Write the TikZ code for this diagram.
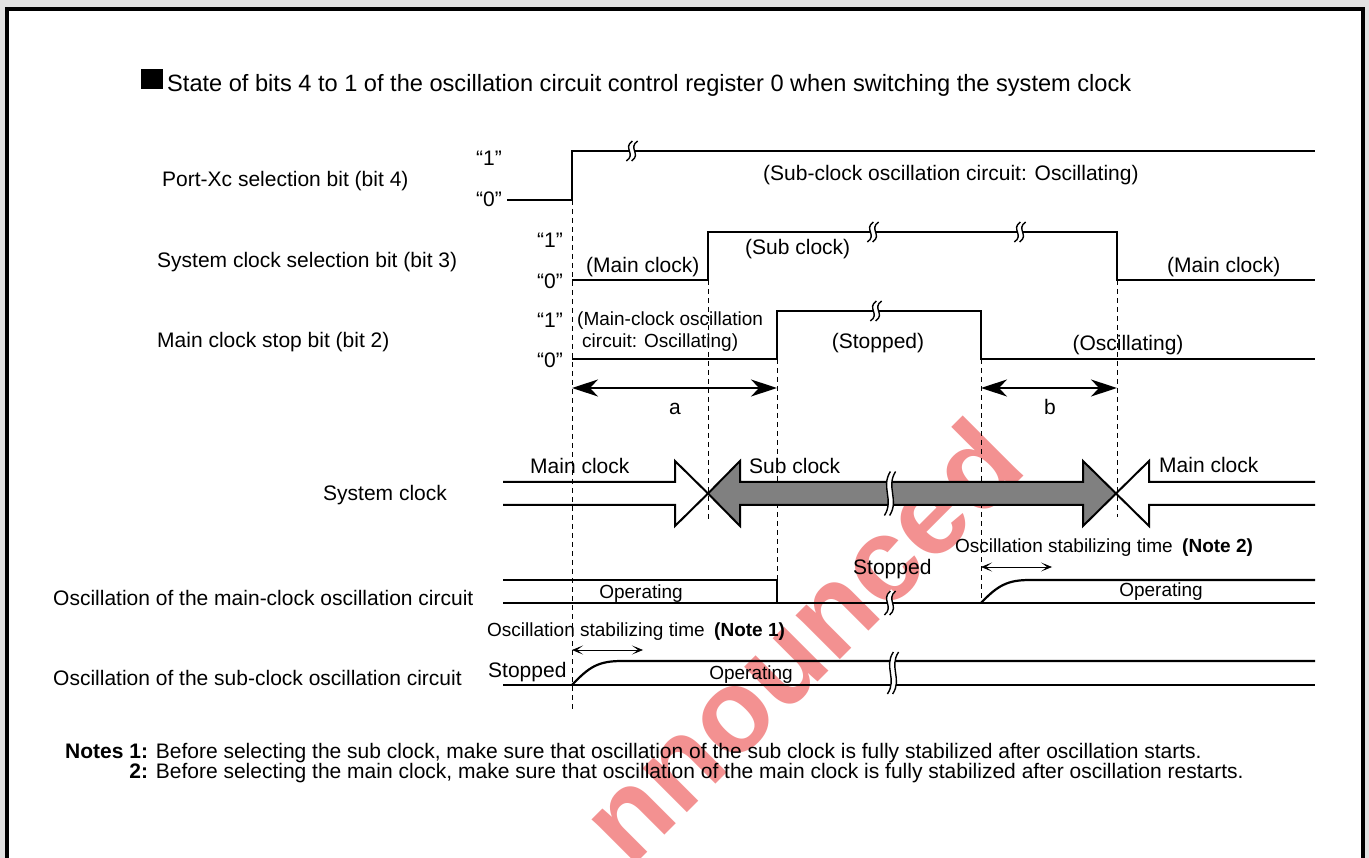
\documentclass[tikz,border=0pt]{standalone}
\usepackage{fontspec}
\setmainfont{Liberation Sans}
\usetikzlibrary{arrows.meta,calc}
\definecolor{arrgray}{RGB}{128,128,128}
\definecolor{wmred}{RGB}{243,145,145}
\definecolor{outgray}{RGB}{225,225,225}
\newcommand\brkmk[3]{%
  \draw[white,line width=5pt] (#1+3,#2-#3) .. controls (#1-7,#2-0.3*#3) and (#1+7,#2+0.3*#3) .. (#1-3,#2+#3);
  \draw[line width=1.4pt,xshift=-2.6pt] (#1+3,#2-#3) .. controls (#1-7,#2-0.3*#3) and (#1+7,#2+0.3*#3) .. (#1-3,#2+#3);
  \draw[line width=1.4pt,xshift=2.6pt] (#1+3,#2-#3) .. controls (#1-7,#2-0.3*#3) and (#1+7,#2+0.3*#3) .. (#1-3,#2+#3);
}
\begin{document}
\begin{tikzpicture}[x=1pt,y=-1pt,
  sig/.style={line width=2.2pt},
  dsh/.style={line width=0.9pt,dash pattern=on 5pt off 4pt},
  lbl/.style={inner sep=0pt,text height=15pt,text depth=0pt,font=\fontsize{21}{25}\selectfont},
  sml/.style={inner sep=0pt,text height=13.6pt,text depth=0pt,font=\fontsize{19}{23}\selectfont},
  ttl/.style={inner sep=0pt,text height=16.8pt,text depth=0pt,font=\fontsize{23.6}{28}\selectfont},
  dimarr/.style={line width=1.6pt,{Stealth[length=26pt,width=17pt,inset=8pt]}-{Stealth[length=26pt,width=17pt,inset=8pt]}},
  stab/.style={line width=0.8pt,{Stealth[length=11pt,width=9pt,inset=6pt]}-{Stealth[length=11pt,width=9pt,inset=6pt]}},
  sysarr/.style={line width=2pt,line join=miter}
]
\useasboundingbox (0,0) rectangle (1369,858);
\fill[outgray] (0,0) rectangle (1369,858);
\fill[white] (7,9) rectangle (1363,858);
% watermark
\begin{scope}
\clip (9,11) rectangle (1361,858);
\node[rotate=45,text=wmred,inner sep=0pt,font=\fontsize{118}{118}\bfseries\selectfont] (wm) at (800,640) {nnounced};
\end{scope}
\draw[line width=4pt] (7,858) -- (7,9) -- (1363,9) -- (1363,858);

% title
\fill (141,69) rectangle (163,89);
\node[ttl,anchor=west] (title) at (167,83) {State of bits 4 to 1 of the oscillation circuit control register 0 when switching the system clock};

% dashed guides
\coordinate (d1t) at (572,200); \coordinate (d1b) at (572,712);
\coordinate (d2t) at (708,280); \coordinate (d2b) at (708,522);
\coordinate (d3t) at (777,359); \coordinate (d3b) at (777,580);
\coordinate (d4t) at (981,359); \coordinate (d4b) at (981,603);
\coordinate (d5t) at (1117,280); \coordinate (d5b) at (1117,517);
\draw[dsh] (d1t) -- (d1b);
\draw[dsh] (d2t) -- (d2b);
\draw[dsh] (d3t) -- (d3b);
\draw[dsh] (d4t) -- (d4b);
\draw[dsh] (d5t) -- (d5b);

% row 1
\node[lbl,anchor=west] (r1lab) at (162,179) {Port-Xc selection bit (bit 4)};
\node[lbl,anchor=east] (r1one) at (502,158) {“1”};
\node[lbl,anchor=east] (r1zero) at (502,199) {“0”};
\draw[sig] (507,200) -- (572,200) -- (572,151) -- (1315,151);
\brkmk{632}{151}{10}
\node[lbl,anchor=west] (r1txt) at (763,173) {(Sub-clock oscillation circuit: Oscillating)};

% row 2
\node[lbl,anchor=west] (r2lab) at (157,260) {System clock selection bit (bit 3)};
\node[lbl,anchor=east] (r2one) at (563,240) {“1”};
\node[lbl,anchor=east] (r2zero) at (563,281) {“0”};
\draw[sig] (572,280) -- (708,280) -- (708,232) -- (1117,232) -- (1117,280) -- (1315,280);
\brkmk{873}{232}{10}
\brkmk{1020}{232}{10}
\node[lbl,anchor=west] (r2a) at (586,265) {(Main clock)};
\node[lbl,anchor=west] (r2b) at (745,247) {(Sub clock)};
\node[lbl,anchor=west] (r2c) at (1167,265) {(Main clock)};

% row 3
\node[lbl,anchor=west] (r3lab) at (157,340) {Main clock stop bit (bit 2)};
\node[lbl,anchor=east] (r3one) at (563,320) {“1”};
\node[lbl,anchor=east] (r3zero) at (563,360) {“0”};
\draw[sig] (572,359) -- (777,359) -- (777,311) -- (981,311) -- (981,359) -- (1315,359);
\brkmk{876}{311}{10}
\node[sml,anchor=west] (r3a) at (577,319) {(Main-clock oscillation};
\node[sml,anchor=west] (r3b) at (582,341) {circuit: Oscillating)};
\node[lbl] (r3c) at (878,341) {(Stopped)};
\node[lbl] (r3d) at (1128,343) {(Oscillating)};

% dimensions
\coordinate (a1) at (572,388); \coordinate (a2) at (777,388);
\draw[dimarr] (a1) -- (a2);
\node[lbl] (alab) at (675,407) {a};
\coordinate (b1) at (981,388); \coordinate (b2) at (1117,388);
\draw[dimarr] (b1) -- (b2);
\node[lbl] (blab) at (1050,407) {b};

% system clock
\node[lbl,anchor=west] (sclab) at (323,493) {System clock};
\draw[sysarr] (503,482) -- (675,482) -- (675,461) -- (708,493.5) -- (675,526) -- (675,505) -- (503,505);
\draw[sysarr,fill=arrgray] (708,493.5) -- (740,461) -- (740,482) -- (1083,482) -- (1083,461) -- (1116,493.5) -- (1083,526) -- (1083,505) -- (740,505) -- (740,526) -- cycle;
\draw[sysarr] (1315,482) -- (1149,482) -- (1149,461) -- (1116,493.5) -- (1149,526) -- (1149,505) -- (1315,505);
\brkmk{890}{493.5}{22}
\node[lbl,anchor=west] (sca) at (530,466) {Main clock};
\node[lbl,anchor=west] (scb) at (749,466) {Sub clock};
\node[lbl,anchor=west] (scc) at (1159,465) {Main clock};

% main oscillation
\node[lbl,anchor=west] (molab) at (53,598) {Oscillation of the main-clock oscillation circuit};
\draw[sig] (503,580) -- (777,580) -- (777,603);
\draw[sig] (503,603) -- (1315,603);
\draw[sig] (981,603) .. controls (998,585) and (1008,580) .. (1030,580) -- (1315,580);
\brkmk{890}{603}{12}
\node[sml] (moa) at (641,592) {Operating};
\node[sml] (mob) at (1161,590) {Operating};
\node[lbl,anchor=west] (moc) at (853,567) {Stopped};
\node[sml,anchor=west] (mod) at (955,546) {Oscillation stabilizing time\enspace\textbf{(Note 2)}};
\coordinate (s2a) at (981,567); \coordinate (s2b) at (1052,567);
\draw[stab] (s2a) -- (s2b);

% sub oscillation
\node[lbl,anchor=west] (solab) at (53,678) {Oscillation of the sub-clock oscillation circuit};
\draw[sig] (503,685) -- (1315,685);
\draw[sig] (572,685) .. controls (589,667) and (598,661) .. (622,661) -- (1315,661);
\brkmk{893}{673}{21}
\node[lbl,anchor=west] (soa) at (488,670) {Stopped};
\node[sml] (sob) at (751,673) {Operating};
\node[sml,anchor=west] (soc) at (487,630) {Oscillation stabilizing time\enspace\textbf{(Note 1)}};
\coordinate (s1a) at (572,650); \coordinate (s1b) at (643,650);
\draw[stab] (s1a) -- (s1b);

% notes
\node[lbl,anchor=west] (n1) at (65,751) {\textbf{Notes 1:} Before selecting the sub clock, make sure that oscillation of the sub clock is fully stabilized after oscillation starts.};
\node[lbl,anchor=west] (n2) at (65,771) {\phantom{\textbf{Notes }}\textbf{2:} Before selecting the main clock, make sure that oscillation of the main clock is fully stabilized after oscillation restarts.};
\end{tikzpicture}
\end{document}
